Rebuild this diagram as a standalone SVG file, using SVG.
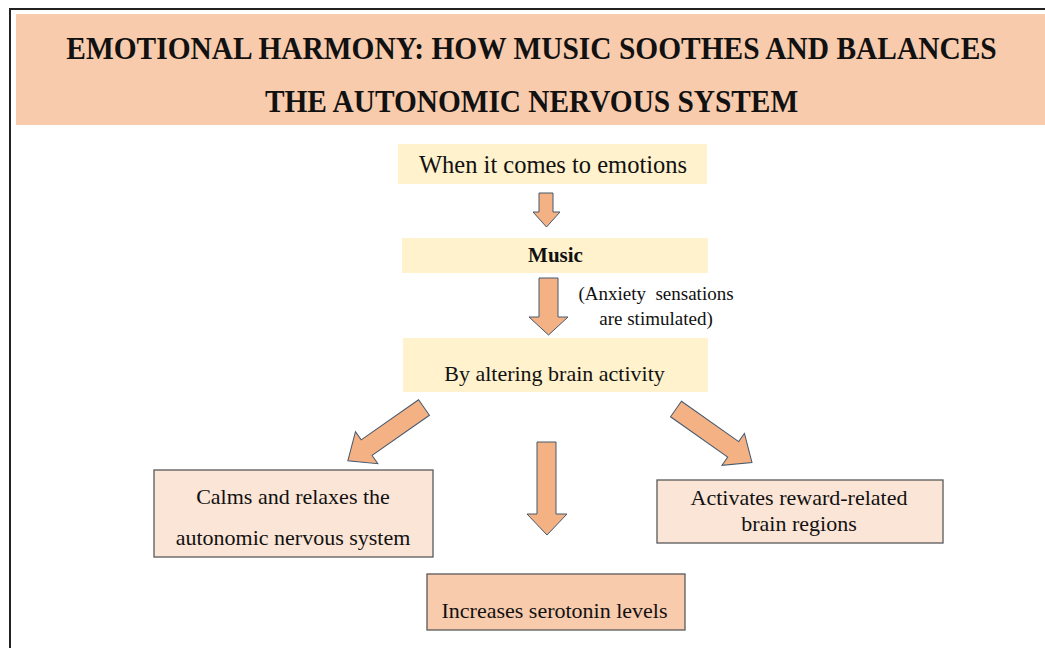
<svg xmlns="http://www.w3.org/2000/svg" width="1045" height="648" viewBox="0 0 1045 648">
  <style>
    text { font-family: "Liberation Serif", "DejaVu Serif", serif; fill: #111; }
    .title { font-size: 32px; font-weight: bold; }
    .body { font-size: 22px; }
    .note { font-size: 19px; }
    .step { fill: #fff2cc; }
    .outcome { fill: #fbe5d6; stroke: #595959; stroke-width: 1.3; }
    .outcome-strong { fill: #f8cbad; stroke: #595959; stroke-width: 1.3; }
    .arrow { fill: #f4b183; stroke: #44586f; stroke-width: 1; stroke-linejoin: miter; }
  </style>
  <defs>
    <!-- block arrow pointing along +x, tail centred at the origin -->
    <polygon id="diag-arrow" points="0,-9.5 70,-9.5 70,-19.5 93,0 70,19.5 70,9.5 0,9.5"/>
  </defs>

  <rect width="1045" height="648" fill="#ffffff"/>

  <!-- frame -->
  <path d="M10,648 V9 H1045" fill="none" stroke="#222" stroke-width="2"/>

  <!-- title banner (condensed heading) -->
  <g id="title">
    <rect x="16" y="14" width="1029" height="111" fill="#f8cbad"/>
    <text class="title" text-anchor="middle" transform="translate(531.5,59) scale(0.92,1)">EMOTIONAL HARMONY: HOW MUSIC SOOTHES AND BALANCES</text>
    <text class="title" text-anchor="middle" transform="translate(531.5,112) scale(0.917,1)">THE AUTONOMIC NERVOUS SYSTEM</text>
  </g>

  <g id="node-emotions">
    <rect class="step" x="398" y="144" width="309" height="40"/>
    <text x="553" y="173" text-anchor="middle" font-size="24.5">When it comes to emotions</text>
  </g>

  <g id="node-music">
    <rect class="step" x="402" y="238" width="306" height="35"/>
    <text x="555.5" y="262" text-anchor="middle" font-size="21" font-weight="bold">Music</text>
  </g>

  <g id="node-brain-activity">
    <rect class="step" x="403" y="338" width="305" height="54"/>
    <text class="body" x="554.5" y="381" text-anchor="middle">By altering brain activity</text>
  </g>

  <g id="node-calms">
    <rect class="outcome" x="154" y="470" width="279" height="87"/>
    <text class="body" x="293" y="504" text-anchor="middle">Calms and relaxes the</text>
    <text class="body" x="293" y="545" text-anchor="middle">autonomic nervous system</text>
  </g>

  <g id="node-reward">
    <rect class="outcome" x="657" y="480" width="286" height="63"/>
    <text class="body" x="799" y="505" text-anchor="middle">Activates reward-related</text>
    <text class="body" x="799" y="531" text-anchor="middle">brain regions</text>
  </g>

  <g id="node-serotonin">
    <rect class="outcome-strong" x="427" y="574" width="258" height="56"/>
    <text class="body" x="554.5" y="618" text-anchor="middle">Increases serotonin levels</text>
  </g>

  <g id="connectors">
    <polygon class="arrow" points="539,193 553,193 553,212 560,212 546.5,227 533,212 539,212"/>
    <polygon class="arrow" points="539,278 558,278 558,317 568,317 548.5,335 529,317 539,317"/>
    <text class="note" x="656" y="300" text-anchor="middle" xml:space="preserve">(Anxiety  sensations</text>
    <text class="note" x="656" y="325" text-anchor="middle">are stimulated)</text>
    <use href="#diag-arrow" class="arrow" transform="translate(424,407.5) rotate(145)"/>
    <use href="#diag-arrow" class="arrow" transform="translate(676,409) rotate(35.2)"/>
    <polygon class="arrow" points="537,442 556,442 556,514 567,514 547,535 527,514 537,514"/>
  </g>
</svg>
